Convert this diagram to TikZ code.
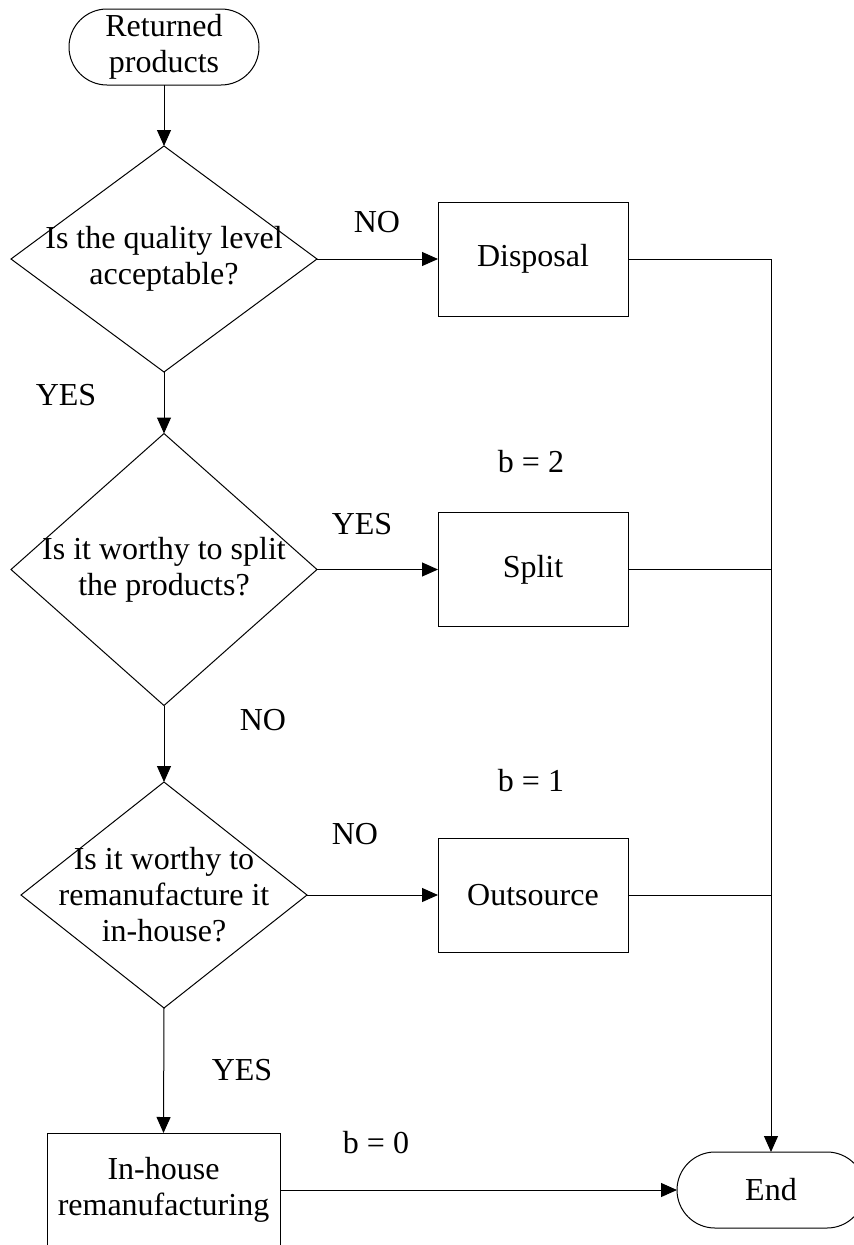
\documentclass[tikz,border=0pt]{standalone}
\usepackage{fontspec}
\setmainfont{Liberation Serif}
\usetikzlibrary{shapes.geometric,arrows.meta}
\begin{document}
\begin{tikzpicture}[x=1pt,y=-1pt,
  every node/.style={font=\fontsize{32}{36}\selectfont, inner sep=0pt, outer sep=0pt},
  line/.style={draw=black, line width=1pt},
  flow/.style={line, -{Triangle[length=16pt,width=14pt]}},
  terminal/.style={line, rectangle, rounded corners=38pt, minimum width=190pt, minimum height=76pt, align=center},
  process/.style={line, rectangle, minimum width=190pt, minimum height=114pt, align=center},
  decision/.style={line, diamond},
  qtext/.style={align=center},
  tag/.style={}
]
\useasboundingbox (0,0) rectangle (854,1245);

% start and end terminals
\node[terminal] (ret) at (164,47) {Returned\\products};
\node[terminal, minimum width=188pt] (fin) at (771,1190) {End};

% decisions
\node[decision, minimum width=306pt, minimum height=226pt] (q1) at (164,259) {};
\node[qtext] (q1t) at (q1.center) {Is the quality level\\acceptable?};
\node[decision, minimum width=306pt, minimum height=272pt] (q2) at (164,569.5) {};
\node[qtext] (q2t) at (q2.center) {Is it worthy to split\\the products?};
\node[decision, minimum width=286pt, minimum height=226pt] (q3) at (164,895) {};
\node[qtext] (q3t) at (q3.center) {Is it worthy to\\remanufacture it\\in-house?};

% actions
\node[process] (dis) at (533,259) {Disposal};
\node[process] (spl) at (533,569.5) {Split};
\node[process] (out) at (533,895) {Outsource};
\node[process, minimum width=233pt] (inh) at (163.5,1190) {In-house\\remanufacturing};

% main column
\draw[flow] (ret.south) -- (q1.north);
\draw[flow] (q1.south) -- (q2.north);
\draw[flow] (q2.south) -- (q3.north);
\draw[flow] (q3.south) -- (inh.north);

% branches
\draw[flow] (q1.east) -- (dis.west);
\draw[flow] (q2.east) -- (spl.west);
\draw[flow] (q3.east) -- (out.west);
\draw[flow] (inh.east) -- (fin.west);

% collector to End
\draw[flow] (dis.east) -| (fin.north);
\draw[line] (spl.east) -- (spl.east -| fin.north);
\draw[line] (out.east) -- (out.east -| fin.north);

% branch labels
\node[tag] (l1) at (377,222) {NO};
\node[tag] (l2) at (66,395) {YES};
\node[tag] (l3) at (362,524) {YES};
\node[tag] (l4) at (263,720) {NO};
\node[tag] (l5) at (355,834) {NO};
\node[tag] (l6) at (242,1070) {YES};
\node[tag] (b2) at (531,462) {b = 2};
\node[tag] (b1) at (531,781) {b = 1};
\node[tag] (b0) at (376,1143) {b = 0};
\end{tikzpicture}
\end{document}
